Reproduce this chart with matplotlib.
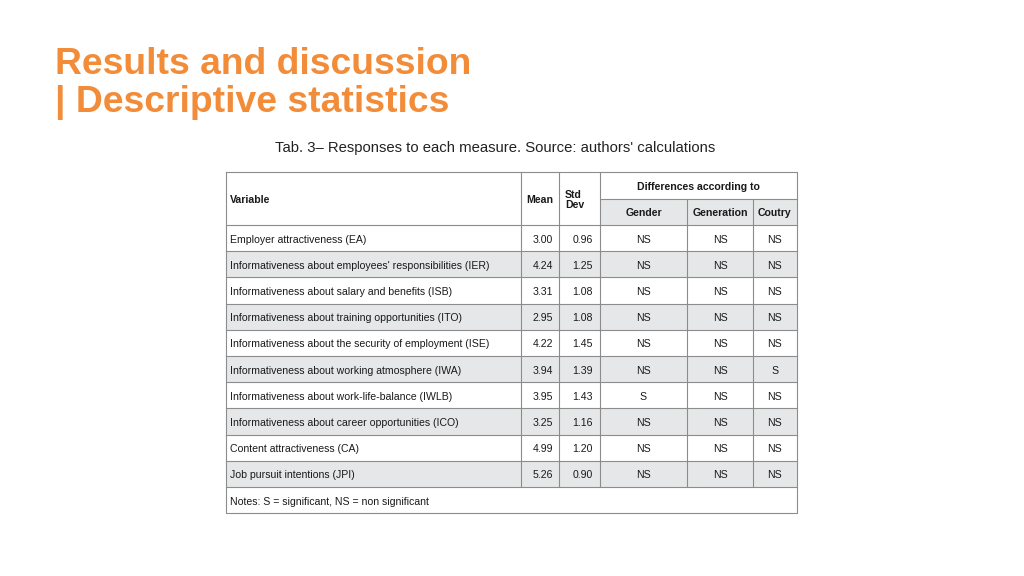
import matplotlib.pyplot as plt
from matplotlib.patches import Rectangle

plt.rcParams['font.family'] = ['Liberation Sans', 'DejaVu Sans']

variables = [
    "Employer attractiveness (EA)",
    "Informativeness about employees' responsibilities (IER)",
    "Informativeness about salary and benefits (ISB)",
    "Informativeness about training opportunities (ITO)",
    "Informativeness about the security of employment (ISE)",
    "Informativeness about working atmosphere (IWA)",
    "Informativeness about work-life-balance (IWLB)",
    "Informativeness about career opportunities (ICO)",
    "Content attractiveness (CA)",
    "Job pursuit intentions (JPI)",
]
means = [3.00, 4.24, 3.31, 2.95, 4.22, 3.94, 3.95, 3.25, 4.99, 5.26]
std_devs = [0.96, 1.25, 1.08, 1.08, 1.45, 1.39, 1.43, 1.16, 1.20, 0.90]
gender = ["NS", "NS", "NS", "NS", "NS", "NS", "S", "NS", "NS", "NS"]
generation = ["NS"] * 10
country = ["NS", "NS", "NS", "NS", "NS", "S", "NS", "NS", "NS", "NS"]

title_lines = ["Results and discussion", "| Descriptive statistics"]
caption = "Tab. 3\u2013 Responses to each measure. Source: authors' calculations"
notes = "Notes: S = significant, NS = non significant"

orange = "#f28c38"
grey = "#e6e7e8"
line_c = "#8c8c8c"

fig = plt.figure(figsize=(10.24, 5.76), dpi=100)
ax = fig.add_axes([0, 0, 1, 1])
ax.set_xlim(0, 1024)
ax.set_ylim(576, 0)
ax.axis("off")

ax.text(55, 64, title_lines[0], color=orange, fontsize=26.8, fontweight="bold", va="center")
ax.text(55, 102, title_lines[1], color=orange, fontsize=26.8, fontweight="bold", va="center")
ax.text(495, 148, caption, fontsize=10.7, ha="center", va="center", color="#222222")

# column edges
cols = [226, 521, 559, 600, 687, 753, 797]
top, sub, head_bot = 172, 199, 225
row_h = 26.2
n = len(variables)

# shading
ax.add_patch(Rectangle((cols[3], sub), cols[6] - cols[3], head_bot - sub, color=grey, lw=0))
for i in range(n):
    if i % 2 == 1:
        y0 = head_bot + i * row_h
        ax.add_patch(Rectangle((cols[0], y0), cols[6] - cols[0], row_h, color=grey, lw=0))

bottom = head_bot + (n + 1) * row_h
lw = 0.8
# outer box
ax.plot([cols[0], cols[6], cols[6], cols[0], cols[0]], [top, top, bottom, bottom, top], color=line_c, lw=lw)
# horizontal lines
ax.plot([cols[3], cols[6]], [sub, sub], color=line_c, lw=lw)
for i in range(n + 1):
    y = head_bot + i * row_h
    ax.plot([cols[0], cols[6]], [y, y], color=line_c, lw=lw)
# vertical lines
table_end = head_bot + n * row_h
for j, x in enumerate(cols[1:-1], start=1):
    y_start = sub if j >= 4 else top
    ax.plot([x, x], [y_start, table_end], color=line_c, lw=lw)

fs = 7.6
txt = "#1a1a1a"
dy = 1.5  # nudge text down a bit
hy = (top + head_bot) / 2 + dy
ax.text(cols[0] + 4, hy, "Variable", fontsize=fs, fontweight="bold", va="center", color=txt)
ax.text(cols[2] - 6, hy, "Mean", fontsize=fs, fontweight="bold", va="center", ha="right", color=txt)
ax.text(cols[2] + 6, hy, "Std\nDev", fontsize=fs, fontweight="bold", va="center", linespacing=1.1, color=txt)
ax.text((cols[3] + cols[6]) / 2, (top + sub) / 2 + dy, "Differences according to", fontsize=fs,
        fontweight="bold", ha="center", va="center", color=txt)
for lab, a, b in [("Gender", cols[3], cols[4]), ("Generation", cols[4], cols[5]), ("Coutry", cols[5], cols[6])]:
    ax.text((a + b) / 2, (sub + head_bot) / 2 + dy, lab, fontsize=fs, fontweight="bold",
            ha="center", va="center", color=txt)

for i in range(n):
    yc = head_bot + (i + 0.5) * row_h + dy
    ax.text(cols[0] + 4, yc, variables[i], fontsize=fs, va="center", color=txt)
    ax.text(cols[2] - 6, yc, f"{means[i]:.2f}", fontsize=fs, va="center", ha="right", color=txt)
    ax.text(cols[3] - 7, yc, f"{std_devs[i]:.2f}", fontsize=fs, va="center", ha="right", color=txt)
    ax.text((cols[3] + cols[4]) / 2, yc, gender[i], fontsize=fs, va="center", ha="center", color=txt)
    ax.text((cols[4] + cols[5]) / 2, yc, generation[i], fontsize=fs, va="center", ha="center", color=txt)
    ax.text((cols[5] + cols[6]) / 2, yc, country[i], fontsize=fs, va="center", ha="center", color=txt)

ax.text(cols[0] + 4, table_end + row_h / 2 + dy, notes, fontsize=fs, va="center", color=txt)

fig.savefig("out.png", dpi=100)
